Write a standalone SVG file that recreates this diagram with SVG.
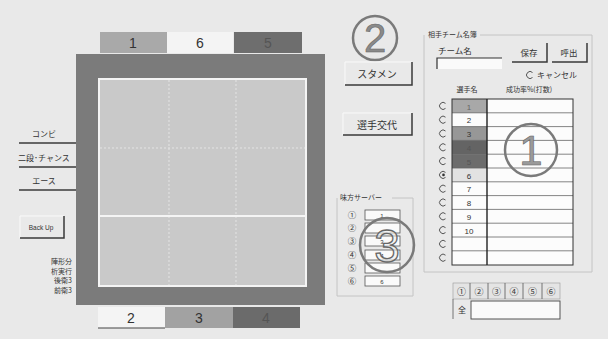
<svg xmlns="http://www.w3.org/2000/svg" width="608" height="339" viewBox="0 0 608 339">
<defs>
<style>
.t{font-family:"Liberation Sans","Noto Sans CJK JP",sans-serif;fill:#333}
.j{font-family:"Noto Sans CJK JP","Liberation Sans",sans-serif;fill:#333}
.btnl{stroke:#3a3a3a;stroke-width:1.5;fill:none}
.hi{stroke:#fafafa;stroke-width:1;fill:none}
.grp{fill:none;stroke:#c4c4c4;stroke-width:1}
.cell{stroke:#555;stroke-width:0.8}
.radio{fill:none;stroke:#555;stroke-width:1}
.big{fill:none;stroke:#7a7a7a;stroke-width:2.5}
.dot{stroke:#e4e4e4;stroke-width:1;stroke-dasharray:2 2}
</style>
</defs>
<rect x="0" y="0" width="608" height="339" fill="#e9e9e9"/>

<!-- court -->
<g id="court">
<rect x="76" y="54" width="249" height="251" fill="#7b7b7b"/>
<rect x="99" y="79" width="207" height="207" fill="#c9c9c9" stroke="#f4f4f4" stroke-width="2"/>
<line class="dot" x1="169" y1="80" x2="169" y2="285"/>
<line class="dot" x1="236" y1="80" x2="236" y2="285"/>
<line class="dot" x1="100" y1="148" x2="305" y2="148"/>
<line x1="100" y1="216" x2="305" y2="216" stroke="#f4f4f4" stroke-width="2"/>
</g>

<g id="tabs-top">
<rect x="100" y="32" width="67" height="21" fill="#a9a9a9"/>
<rect x="167" y="32" width="66" height="21" fill="#f4f4f4"/>
<rect x="234" y="32" width="68" height="21" fill="#6e6e6e"/>
<text class="t" x="133" y="48" font-size="14" text-anchor="middle">1</text>
<text class="t" x="200" y="48" font-size="14" text-anchor="middle">6</text>
<text class="t" x="268" y="48" font-size="14" text-anchor="middle" style="fill:#555">5</text>
</g>

<g id="tabs-bottom">
<rect x="98" y="307" width="67" height="21" fill="#f4f4f4"/>
<line x1="98" y1="328" x2="165" y2="328" stroke="#444" stroke-width="1"/>
<rect x="165" y="307" width="68" height="21" fill="#a2a2a2"/>
<rect x="233" y="307" width="67" height="21" fill="#6b6b6b"/>
<text class="t" x="131" y="323" font-size="14" text-anchor="middle">2</text>
<text class="t" x="199" y="323" font-size="14" text-anchor="middle">3</text>
<text class="t" x="266" y="323" font-size="14" text-anchor="middle" style="fill:#555">4</text>
</g>

<!-- left buttons -->
<g id="btn-combi">
<line class="btnl" x1="19" y1="143" x2="76" y2="143"/>
<text class="j" x="44" y="137" font-size="8" text-anchor="middle">コンビ</text>
</g>
<g id="btn-nidan">
<line class="btnl" x1="19" y1="167" x2="76" y2="167"/>
<text class="j" x="44" y="161" font-size="8" text-anchor="middle">二段･チャンス</text>
</g>
<g id="btn-ace">
<line class="btnl" x1="19" y1="190" x2="76" y2="190"/>
<text class="j" x="44" y="184" font-size="8" text-anchor="middle">エース</text>
</g>
<g id="btn-backup">
<path class="hi" d="M20 238 V216 H64"/>
<path class="btnl" d="M64 216 V238 H20"/>
<text class="t" x="41" y="230" font-size="6.5" text-anchor="middle">Back Up</text>
</g>
<g id="formation-text">
<text class="j" x="72" y="264" font-size="7" text-anchor="end">陣形分</text>
<text class="j" x="72" y="273.5" font-size="7" text-anchor="end">析実行</text>
<text class="j" x="72" y="283" font-size="7" text-anchor="end">後衛3</text>
<text class="j" x="72" y="292.5" font-size="7" text-anchor="end">前衛3</text>
</g>

<!-- center -->
<g id="mark2">
<circle class="big" cx="375" cy="38" r="22"/>
<text class="t" x="375" y="52" font-size="40" text-anchor="middle" style="fill:#8a8a8a;stroke:#666;stroke-width:0.6">2</text>
</g>
<g id="btn-stamen">
<path class="hi" d="M345 85 V62 H412"/>
<path class="btnl" d="M412 62 V85 H345"/>
<text class="j" x="377" y="78" font-size="10" text-anchor="middle">スタメン</text>
</g>
<g id="btn-koutai">
<path class="hi" d="M343 135 V113 H412"/>
<path class="btnl" d="M412 113 V135 H343"/>
<text class="j" x="377" y="129" font-size="10" text-anchor="middle">選手交代</text>
</g>

<!-- server panel -->
<g id="server-panel">
<path class="grp" d="M337 198 V296 H413 V198 H392"/>
<text class="j" x="340" y="200" font-size="7">味方サーバー</text>
<g font-size="8.5">
<text class="j" x="352" y="218" text-anchor="middle">①</text>
<text class="j" x="352" y="231" text-anchor="middle">②</text>
<text class="j" x="352" y="244" text-anchor="middle">③</text>
<text class="j" x="352" y="258" text-anchor="middle">④</text>
<text class="j" x="352" y="271" text-anchor="middle">⑤</text>
<text class="j" x="352" y="284" text-anchor="middle">⑥</text>
</g>
<g fill="#fafafa" class="cell">
<rect x="365" y="210" width="35" height="10"/>
<rect x="365" y="223" width="35" height="10"/>
<rect x="365" y="236" width="35" height="10"/>
<rect x="365" y="250" width="35" height="10"/>
<rect x="365" y="263" width="35" height="10"/>
<rect x="365" y="276" width="35" height="10"/>
</g>
<text class="t" x="382" y="218" font-size="6" text-anchor="middle">1</text>
<text class="t" x="382" y="244" font-size="6" text-anchor="middle">3</text>
<text class="t" x="382" y="258" font-size="6" text-anchor="middle">4</text>
<text class="t" x="382" y="284" font-size="6" text-anchor="middle">6</text>
</g>
<g id="mark3">
<circle class="big" cx="387" cy="245" r="27"/>
<text class="t" x="387" y="262" font-size="46" text-anchor="middle" style="fill:#efefef;fill-opacity:0.6;stroke:#666;stroke-width:1.3">3</text>
</g>

<!-- right panel -->
<g id="team-panel">
<path class="grp" d="M424 35 V272 H592 V35 H480"/>
<text class="j" x="428" y="37" font-size="7">相手チーム名簿</text>
<text class="j" x="438" y="54" font-size="8.5">チーム名</text>
<rect x="437" y="58" width="65" height="11" fill="#fafafa"/>
<path d="M437 69 V58 H502" stroke="#333" stroke-width="1.2" fill="none"/>
<g id="btn-save">
<path class="btnl" d="M547 43 V62 H512"/>
<text class="j" x="529" y="56" font-size="8.5" text-anchor="middle">保存</text>
</g>
<g id="btn-load">
<path class="btnl" d="M587 43 V62 H552"/>
<text class="j" x="569" y="56" font-size="8.5" text-anchor="middle">呼出</text>
</g>
<path class="radio" d="M532.5 72.5 A3.5 3.5 0 1 0 532.5 77.5"/>
<text class="j" x="537" y="78" font-size="8">キャンセル</text>
<text class="j" x="467" y="92" font-size="7" text-anchor="middle">選手名</text>
<text class="j" x="529" y="92" font-size="7" text-anchor="middle">成功率%(打数)</text>
</g>

<g id="player-table">
<rect x="452" y="99" width="121" height="166" fill="#fcfcfc"/>
<rect x="452" y="99" width="35" height="13.8" fill="#a8a8a8"/>
<rect x="452" y="126.6" width="35" height="13.8" fill="#979797"/>
<rect x="452" y="140.4" width="35" height="13.8" fill="#646464"/>
<rect x="452" y="154.2" width="35" height="13.8" fill="#6c6c6c"/>
<rect x="452" y="168" width="35" height="13.8" fill="#e2e2e2"/>
<g stroke="#666" stroke-width="0.8">
<line x1="452" y1="112.8" x2="573" y2="112.8"/>
<line x1="452" y1="126.6" x2="573" y2="126.6"/>
<line x1="452" y1="140.4" x2="573" y2="140.4"/>
<line x1="452" y1="154.2" x2="573" y2="154.2"/>
<line x1="452" y1="168" x2="573" y2="168"/>
<line x1="452" y1="181.8" x2="573" y2="181.8"/>
<line x1="452" y1="195.6" x2="573" y2="195.6"/>
<line x1="452" y1="209.4" x2="573" y2="209.4"/>
<line x1="452" y1="223.2" x2="573" y2="223.2"/>
<line x1="452" y1="237" x2="573" y2="237"/>
<line x1="452" y1="250.8" x2="573" y2="250.8"/>
</g>
<rect x="452" y="99" width="121" height="166" fill="none" stroke="#333" stroke-width="1"/>
<line x1="487" y1="99" x2="487" y2="265" stroke="#222" stroke-width="1.4"/>
<g font-size="8" text-anchor="middle">
<text class="t" x="469" y="109.5" style="fill:#666">1</text>
<text class="t" x="469" y="123.3">2</text>
<text class="t" x="469" y="137.1">3</text>
<text class="t" x="469" y="150.9" style="fill:#555">4</text>
<text class="t" x="469" y="164.7" style="fill:#555">5</text>
<text class="t" x="469" y="178.5">6</text>
<text class="t" x="469" y="192.3">7</text>
<text class="t" x="469" y="206.1">8</text>
<text class="t" x="469" y="219.9">9</text>
<text class="t" x="469" y="233.7">10</text>
</g>
<g class="radio">
<path d="M445.5 103.4 A3.5 3.5 0 1 0 445.5 108.4"/>
<path d="M445.5 117.2 A3.5 3.5 0 1 0 445.5 122.2"/>
<path d="M445.5 131 A3.5 3.5 0 1 0 445.5 136"/>
<path d="M445.5 144.8 A3.5 3.5 0 1 0 445.5 149.8"/>
<path d="M445.5 158.6 A3.5 3.5 0 1 0 445.5 163.6"/>
<path d="M445.5 172.4 A3.5 3.5 0 1 0 445.5 177.4"/>
<path d="M445.5 186.2 A3.5 3.5 0 1 0 445.5 191.2"/>
<path d="M445.5 200 A3.5 3.5 0 1 0 445.5 205"/>
<path d="M445.5 213.8 A3.5 3.5 0 1 0 445.5 218.8"/>
<path d="M445.5 227.6 A3.5 3.5 0 1 0 445.5 232.6"/>
<path d="M445.5 241.4 A3.5 3.5 0 1 0 445.5 246.4"/>
<path d="M445.5 255.2 A3.5 3.5 0 1 0 445.5 260.2"/>
</g>
<circle cx="443.5" cy="174.9" r="1.3" fill="#333"/>
</g>
<g id="mark1">
<circle class="big" cx="531" cy="150" r="26"/>
<text class="t" x="531" y="165" font-size="42" text-anchor="middle" style="fill:#9a9a9a;stroke:#666;stroke-width:0.6">1</text>
</g>

<!-- bottom right rotation table -->
<g id="rotation-table">
<rect x="453" y="283" width="107" height="16" fill="#e4e4e4" stroke="#999" stroke-width="0.6"/>
<g stroke="#555" stroke-width="0.8">
<line x1="470" y1="283" x2="470" y2="299"/>
<line x1="488" y1="283" x2="488" y2="299"/>
<line x1="505" y1="283" x2="505" y2="299"/>
<line x1="523" y1="283" x2="523" y2="299"/>
<line x1="542" y1="283" x2="542" y2="299"/>
<line x1="453" y1="299" x2="453" y2="319"/>
</g>
<g font-size="9" text-anchor="middle">
<text class="j" x="461.5" y="295">①</text>
<text class="j" x="479" y="295">②</text>
<text class="j" x="496.5" y="295">③</text>
<text class="j" x="514" y="295">④</text>
<text class="j" x="532.5" y="295">⑤</text>
<text class="j" x="551" y="295">⑥</text>
</g>
<rect x="471" y="301" width="89" height="18" fill="#fafafa" stroke="#444" stroke-width="0.9"/>
<text class="j" x="462" y="313" font-size="8" text-anchor="middle">全</text>
</g>
</svg>
